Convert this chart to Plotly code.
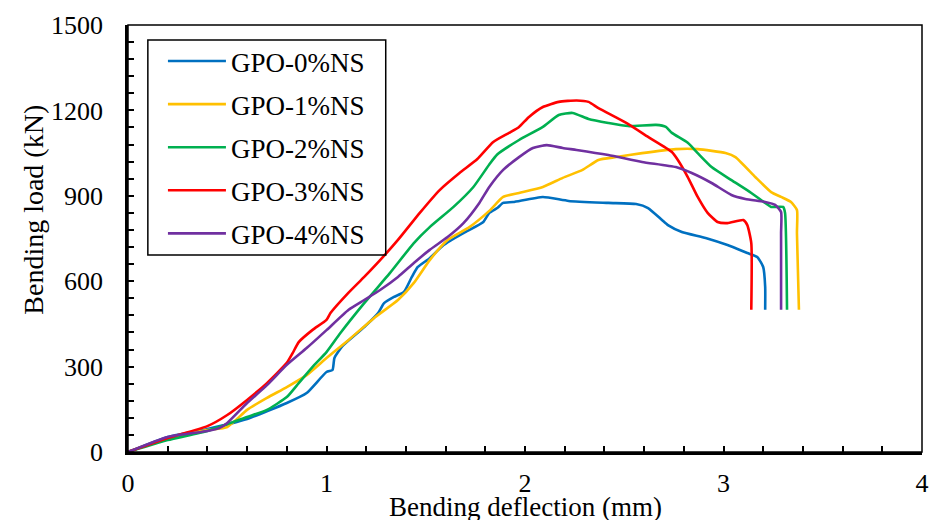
import plotly.graph_objects as go

# ---- data (deflection in mm, load in kN) ----
x_0 = [0, 0.2, 0.4, 0.6, 0.8, 0.9, 1.0, 1.03, 1.04, 1.08, 1.19, 1.26, 1.29, 1.34, 1.39, 1.43, 1.46,
       1.52, 1.59, 1.69, 1.79, 1.82, 1.86, 1.89, 1.94, 2.09, 2.22, 2.42, 2.56, 2.62, 2.69, 2.72,
       2.79, 2.91, 3.02, 3.12, 3.17, 3.20, 3.21, 3.21]
y_0 = [0, 53, 81, 116, 172, 207, 281, 288, 330, 372, 439, 488, 523, 545, 562, 615, 650,
       681, 727, 769, 808, 840, 857, 875, 878, 896, 882, 875, 871, 857, 815, 797,
       773, 752, 727, 699, 685, 650, 580, 500]

x_1 = [0, 0.2, 0.4, 0.5, 0.6, 0.7, 0.8, 0.9, 1.0, 1.11, 1.24, 1.36, 1.44, 1.52, 1.61, 1.72, 1.82,
       1.89, 1.97, 2.09, 2.19, 2.29, 2.37, 2.46, 2.59, 2.76, 2.87, 3.01, 3.06, 3.16, 3.24, 3.29,
       3.34, 3.37, 3.37, 3.38]
y_1 = [0, 49, 77, 88, 148, 190, 228, 270, 330, 393, 471, 534, 594, 674, 745, 790, 847,
       896, 910, 931, 963, 991, 1026, 1036, 1050, 1064, 1064, 1050, 1036, 966, 913, 896,
       878, 850, 769, 500]

x_2 = [0, 0.2, 0.4, 0.6, 0.7, 0.8, 0.86, 0.93, 1.0, 1.07, 1.19, 1.32, 1.44, 1.52, 1.64, 1.74, 1.82,
       1.86, 1.97, 2.09, 2.17, 2.24, 2.32, 2.42, 2.52, 2.66, 2.71, 2.74, 2.82, 2.87, 2.94, 3.04,
       3.14, 3.21, 3.24, 3.30, 3.31, 3.32]
y_2 = [0, 42, 74, 123, 148, 193, 242, 299, 351, 418, 523, 629, 734, 790, 861, 931, 1010,
       1045, 1096, 1142, 1184, 1191, 1170, 1156, 1145, 1149, 1142, 1121, 1086, 1050, 1001, 955,
       910, 875, 861, 861, 840, 500]

x_3 = [0, 0.2, 0.4, 0.5, 0.6, 0.7, 0.8, 0.83, 0.86, 0.93, 1.0, 1.02, 1.11, 1.19, 1.27, 1.36, 1.47,
       1.57, 1.67, 1.76, 1.84, 1.92, 1.97, 2.02, 2.09, 2.17, 2.26, 2.32, 2.37, 2.51, 2.62, 2.74,
       2.77, 2.82, 2.87, 2.92, 2.97, 3.02, 3.10, 3.12, 3.14, 3.14]
y_3 = [0, 49, 91, 130, 183, 242, 313, 348, 386, 429, 464, 488, 559, 615, 674, 745, 840,
       920, 980, 1029, 1089, 1121, 1142, 1177, 1212, 1230, 1235, 1230, 1208, 1156, 1107, 1054,
       1026, 966, 896, 840, 808, 804, 815, 797, 734, 500]

x_4 = [0, 0.2, 0.4, 0.46, 0.5, 0.6, 0.7, 0.8, 0.9, 1.0, 1.11, 1.19, 1.27, 1.36, 1.44, 1.52, 1.61,
       1.69, 1.77, 1.82, 1.89, 1.97, 2.04, 2.11, 2.19, 2.26, 2.42, 2.59, 2.76, 2.84, 2.94, 3.04,
       3.11, 3.21, 3.26, 3.29, 3.29, 3.29]
y_4 = [0, 53, 74, 84, 102, 172, 235, 306, 365, 428, 499, 534, 569, 615, 664, 710, 755,
       804, 875, 931, 991, 1036, 1068, 1078, 1068, 1061, 1043, 1019, 1001, 980, 945, 903,
       889, 878, 868, 843, 769, 500]

names = ["GPO-0%NS", "GPO-1%NS", "GPO-2%NS", "GPO-3%NS", "GPO-4%NS"]
colors = ["#0070C0", "#FFC000", "#00B050", "#FF0000", "#7030A0"]
xs = [x_0, x_1, x_2, x_3, x_4]
ys = [y_0, y_1, y_2, y_3, y_4]

FONT = "Liberation Serif, Times New Roman, serif"

fig = go.Figure()
for i in range(5):
    fig.add_trace(go.Scatter(
        x=xs[i], y=ys[i], mode="lines", name=names[i],
        legendgroup=names[i],
        line=dict(color=colors[i], width=2.6, shape="spline", smoothing=0.5),
    ))

axis_common = dict(
    showgrid=False, zeroline=False, showline=True, linecolor="black", linewidth=2.5,
    ticks="inside", ticklen=6, tickwidth=2, tickcolor="black",
    tickfont=dict(family=FONT, size=26, color="black"),
)

fig.update_layout(
    width=939, height=520,
    margin=dict(l=128, r=10, t=25, b=68),
    paper_bgcolor="white", plot_bgcolor="white",
    font=dict(family=FONT, color="black"),
    showlegend=True,
    legend=dict(
        x=0.044, y=0.972, xanchor="left", yanchor="top",
        borderwidth=0, bgcolor="rgba(0,0,0,0)",
        font=dict(family=FONT, size=27, color="black"),
        tracegroupgap=5, itemwidth=58,
    ),
    xaxis=dict(range=[0, 4], tick0=0, dtick=1, ticklabelstandoff=6,
               minor=dict(dtick=0.2, ticks="inside", ticklen=6, tickwidth=2, tickcolor="black"),
               **axis_common),
    yaxis=dict(range=[0, 1500], tick0=0, dtick=300, ticklabelstandoff=17,
               minor=dict(dtick=60, ticks="inside", ticklen=6, tickwidth=2, tickcolor="black"),
               **axis_common),
    shapes=[
        dict(type="rect", xref="paper", yref="paper", x0=0, y0=0, x1=1, y1=1,
             line=dict(color="black", width=1.5), layer="above"),
        # legend frame
        dict(type="rect", xref="paper", yref="paper", x0=0.025, y0=0.4614, x1=0.3246, y1=0.9649,
             line=dict(color="black", width=1.5), layer="above"),
    ],
    annotations=[
        dict(text="Bending deflection (mm)", xref="paper", yref="paper", x=0.5, y=-0.128,
             xanchor="center", yanchor="middle", showarrow=False,
             font=dict(family=FONT, size=27, color="black")),
        dict(text="Bending load (kN)", xref="paper", yref="paper", x=-0.1186, y=0.567,
             xanchor="center", yanchor="middle", textangle=-90, showarrow=False,
             font=dict(family=FONT, size=28, color="black")),
    ],
)

fig.write_html("out.html")
